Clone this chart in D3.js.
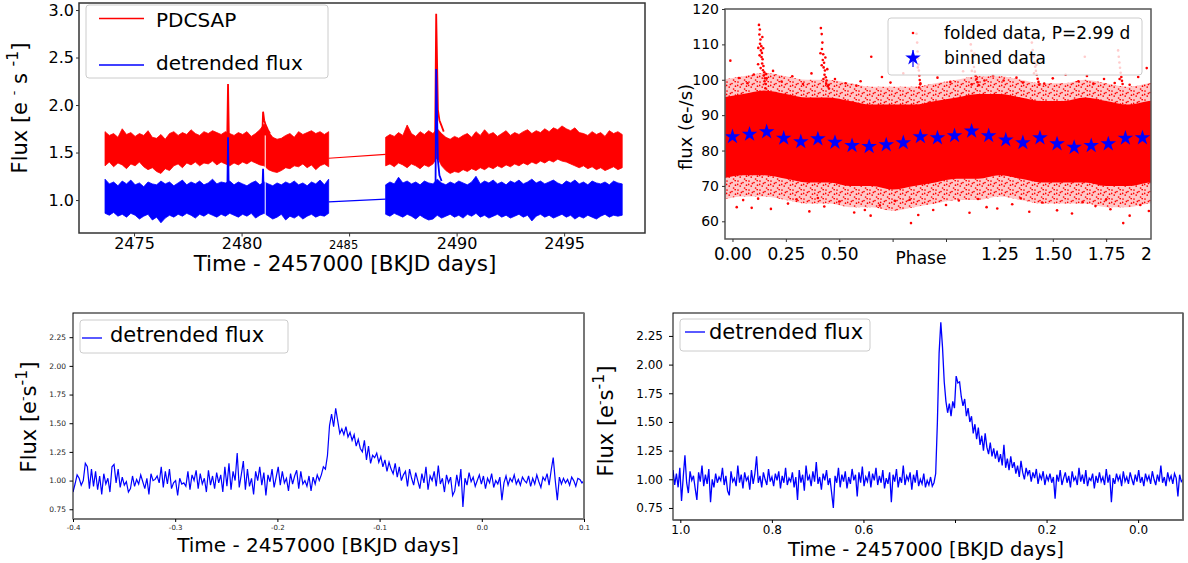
<!DOCTYPE html>
<html><head><meta charset="utf-8">
<script src="https://cdn.jsdelivr.net/npm/d3@7"></script>
<style>body{margin:0;background:#fff}svg{display:block}text{font-family:"DejaVu Sans",sans-serif}</style>
</head><body>
<svg id="c" width="1188" height="563"></svg>
<script>
// ---------- Panel A: light curve (PDCSAP + detrended) ----------
const seg1T0 = 2473.65, seg2T0 = 2486.7, segStep = 0.2;
const redSeg1Hi = [1.72,1.68,1.70,1.66,1.75,1.69,1.71,1.67,1.70,1.68,1.73,1.66,1.65,1.69,1.64,1.70,1.72,1.68,1.71,1.69,1.74,1.70,1.68,1.72,1.70,1.73,1.71,1.69,1.72,1.70,1.68,1.71,1.69,1.72,1.67,1.70,1.74,1.80,1.72,1.66,1.64,1.65,1.68,1.70,1.66,1.72,1.69,1.71,1.73,1.70,1.72,1.69,1.72];
const redSeg1Lo = [1.36,1.40,1.35,1.39,1.37,1.33,1.38,1.36,1.40,1.35,1.32,1.34,1.30,1.28,1.33,1.31,1.36,1.38,1.34,1.39,1.37,1.40,1.36,1.39,1.38,1.41,1.37,1.40,1.38,1.36,1.39,1.37,1.40,1.38,1.41,1.39,1.37,1.36,1.32,1.30,1.29,1.31,1.34,1.33,1.36,1.35,1.38,1.34,1.37,1.32,1.36,1.38,1.35];
const blueSeg1Hi = [1.22,1.17,1.19,1.15,1.20,1.17,1.21,1.16,1.18,1.14,1.19,1.17,1.16,1.20,1.17,1.19,1.15,1.18,1.21,1.16,1.19,1.17,1.20,1.16,1.18,1.22,1.17,1.19,1.18,1.20,1.16,1.19,1.17,1.15,1.18,1.20,1.16,1.19,1.17,1.15,1.18,1.16,1.19,1.17,1.20,1.16,1.18,1.15,1.19,1.17,1.21,1.16,1.22];
const blueSeg1Lo = [0.86,0.84,0.87,0.83,0.85,0.82,0.86,0.84,0.80,0.83,0.85,0.79,0.82,0.76,0.81,0.84,0.82,0.85,0.83,0.86,0.84,0.81,0.85,0.83,0.86,0.84,0.82,0.85,0.83,0.86,0.84,0.82,0.85,0.83,0.86,0.81,0.84,0.86,0.83,0.80,0.82,0.85,0.79,0.83,0.81,0.84,0.80,0.83,0.85,0.82,0.84,0.83,0.86];
const redSeg2Hi = [1.66,1.69,1.67,1.71,1.68,1.79,1.70,1.67,1.72,1.69,1.73,1.70,1.75,1.70,1.66,1.64,1.67,1.65,1.68,1.70,1.66,1.72,1.68,1.74,1.69,1.71,1.67,1.70,1.73,1.68,1.71,1.69,1.72,1.74,1.70,1.73,1.71,1.75,1.72,1.76,1.74,1.78,1.75,1.73,1.76,1.71,1.70,1.68,1.72,1.69,1.71,1.67,1.73,1.70,1.72,1.69];
const redSeg2Lo = [1.36,1.38,1.35,1.39,1.37,1.34,1.38,1.36,1.33,1.37,1.35,1.38,1.45,1.36,1.31,1.28,1.30,1.29,1.32,1.30,1.33,1.31,1.34,1.32,1.35,1.33,1.36,1.34,1.37,1.35,1.38,1.36,1.39,1.37,1.40,1.38,1.41,1.39,1.42,1.40,1.43,1.41,1.40,1.38,1.36,1.34,1.36,1.33,1.35,1.32,1.34,1.31,1.33,1.35,1.32,1.34];
const blueSeg2Hi = [1.16,1.19,1.17,1.24,1.18,1.20,1.17,1.19,1.16,1.20,1.18,1.17,1.22,1.18,1.16,1.19,1.17,1.20,1.18,1.16,1.19,1.25,1.17,1.20,1.18,1.21,1.17,1.19,1.16,1.20,1.18,1.21,1.17,1.19,1.22,1.18,1.20,1.17,1.19,1.21,1.18,1.16,1.20,1.18,1.21,1.17,1.19,1.16,1.20,1.18,1.17,1.19,1.16,1.20,1.18,1.17];
const blueSeg2Lo = [0.85,0.83,0.86,0.84,0.82,0.85,0.83,0.80,0.84,0.81,0.79,0.80,0.84,0.81,0.83,0.85,0.82,0.84,0.81,0.85,0.83,0.86,0.82,0.84,0.81,0.83,0.85,0.82,0.84,0.81,0.83,0.85,0.82,0.84,0.78,0.83,0.85,0.82,0.84,0.81,0.83,0.85,0.82,0.84,0.80,0.83,0.81,0.84,0.82,0.80,0.83,0.85,0.82,0.84,0.83,0.84];
const redFlares = [
  [[2479.33,1.62],[2479.37,2.22],[2479.41,1.64]],
  [[2480.96,1.66],[2481.00,1.93],[2481.05,1.84],[2481.12,1.79],[2481.22,1.74],[2481.32,1.70]],
  [[2489.00,1.62],[2489.05,2.96],[2489.09,2.45],[2489.13,1.95],[2489.20,1.84],[2489.30,1.78],[2489.40,1.72]]
];
const blueFlares = [
  [[2479.34,1.12],[2479.37,1.66],[2479.40,1.12]],
  [[2480.97,1.12],[2481.00,1.33],[2481.03,1.12]],
  [[2488.98,0.90],[2489.02,1.15],[2489.05,2.38],[2489.09,1.91],[2489.13,1.42],[2489.20,1.26],[2489.30,1.20]]
];
const redConnector = [[2484.05,1.44],[2486.7,1.48]];
const blueConnector = [[2484.05,0.98],[2486.7,1.01]];
const gapTimes = [2481.10];
const lcXTicks = [2475,2480,2485,2490,2495];
const lcXLabels = ["2475","2480","2485","2490","2495"];
const lcYTicks = [1.0,1.5,2.0,2.5,3.0];
const lcYLabels = ["1.0","1.5","2.0","2.5","3.0"];

// ---------- Panel B: folded data ----------
const phaseGrid = [-0.05,0.05,0.15,0.25,0.35,0.45,0.55,0.65,0.75,0.85,0.95,1.05,1.15,1.25,1.35,1.45,1.55,1.65,1.75,1.85,1.95,2.05];
const foldCoreHi = [95,96,97,96,95,95,94,93,93,93,94,95,96,96,95,94,94,95,94,93,94,95];
const foldCoreLo = [72,73,73,72,71,71,70,70,69,70,71,72,72,73,72,71,71,71,70,70,71,72];
const foldOuterHi = [100,101,102,101,100,100,99,98,98,98,99,100,101,101,100,99,99,100,99,98,99,100];
const foldOuterLo = [66,67,67,66,65,65,64,64,63,64,65,66,66,67,66,65,65,65,64,64,65,66];
const foldOutliers = [[-0.01,105.4],[0.03,100.5],[0.07,99],[0.10,101.5],[0.19,102.5],[0.23,99.5],[0.28,101],[0.33,98.8],[0.37,101.8],[0.48,100.2],[0.53,99],[0.65,106.5],[0.60,99.6],[0.70,100.8],[0.74,99.2],[0.80,101.8],[0.96,100.6],[1.02,99.4],[1.08,102.4],[1.22,101.2],[1.27,99.8],[1.33,100.6],[1.50,100.4],[1.56,101.4],[1.62,99.6],[1.69,98.9],[1.74,100.2],[1.79,99.1],[1.90,100.8],[1.94,103.3],[0.45,98.5],[0.88,99],[1.12,98.7],[1.36,99.2],[1.86,98.6],[0.16,100.4],[0.58,98.4],[1.18,99.8],[1.46,98.9],[1.66,101.1],[1.65,106.5],
  [0.02,64],[0.05,66],[0.09,63.8],[0.18,63.5],[0.26,65],[0.30,66.2],[0.36,62.8],[0.43,64.2],[0.50,65.6],[0.57,62.5],[0.62,63.2],[0.647,61.6],[0.69,64.5],[0.76,65.8],[0.836,59.5],[0.87,61.8],[0.94,63.2],[1.0,64.6],[1.06,65.9],[1.11,62.4],[1.19,64],[1.24,63.6],[1.31,64.8],[1.39,62.7],[1.45,65.3],[1.52,63.1],[1.59,62.2],[1.64,65.4],[1.70,64.3],[1.77,63.4],[1.83,59.5],[1.86,61.6],[1.91,64.6],[1.95,62.9],[0.12,66.4],[0.40,66.6],[0.83,66.1],[1.15,66.3],[1.35,66.5],[1.75,66.2]];
const foldFlarePoints = [
  [0.124,115.5],[0.128,114.2],[0.126,112.8],[0.131,111.4],[0.129,110.2],[0.135,109.5],[0.133,108.3],[0.138,107.6],[0.136,106.4],[0.141,105.8],[0.139,104.6],[0.145,103.9],[0.143,102.7],[0.149,102.1],[0.147,101.2],[0.152,100.4],[0.150,99.6],[0.156,98.8],[0.127,106.9],[0.140,112.1],[0.132,103.3],[0.154,97.6],[0.121,109.0],[0.144,108.9],[0.158,101.6],[0.120,104.4],
  [0.414,114.6],[0.418,112.9],[0.421,110.5],[0.419,108.7],[0.425,107.2],[0.423,105.6],[0.429,104.8],[0.427,103.5],[0.433,102.6],[0.431,101.4],[0.437,100.7],[0.441,99.8],[0.439,98.9],[0.446,98.2],[0.452,97.5],[0.418,104.1],[0.435,106.3],[0.426,100.2],[0.412,107.5],[0.444,103.0],
  [0.862,113],[0.865,110.5],[0.867,108],[0.869,106],[0.871,104.3],[0.873,102.6],[0.875,101.2],[0.877,99.9],[0.879,98.7],[0.868,103.5],[0.874,97.8],
  [1.112,112],[1.116,110],[1.119,108.2],[1.123,106.5],[1.127,105],[1.131,103.6],[1.135,102.3],[1.139,101.1],[1.143,100.2],[1.148,99.3],[1.153,98.5],[1.121,102.5],[1.133,107.4],
  [1.402,110.5],[1.406,108.4],[1.410,106.6],[1.414,105],[1.418,103.7],[1.421,102.5],[1.425,101.4],[1.429,100.3],[1.433,99.4],[1.437,98.6],[1.412,101.8],[1.423,104.2],
  [1.806,108.3],[1.809,106.5],[1.812,104.9],[1.815,103.4],[1.818,102],[1.821,100.8],[1.824,99.7],[1.827,98.8],[1.813,100.2]];
const binPhase = [0,0.08,0.16,0.24,0.32,0.40,0.48,0.56,0.64,0.72,0.80,0.88,0.96,1.04,1.12,1.20,1.28,1.36,1.44,1.52,1.60,1.68,1.76,1.84,1.92];
const binFlux = [83.9,84.6,85.3,83.5,82.5,83.3,82.3,81.4,81.1,81.6,82.2,83.9,83.6,84.2,85.5,84.2,83.0,82.2,83.6,81.9,80.9,81.4,81.9,83.5,83.6];
const phXTicks = [0,0.25,0.5,0.75,1.0,1.25,1.5,1.75,2.0];
const phXLabels = ["0.00","0.25","0.50","","","1.25","1.50","1.75","2.00"];
const phYTicks = [60,70,80,90,100,110,120];
const phYLabels = ["60","70","80","90","100","110","120"];

// ---------- Panel C: flare zoom 1 ----------
const zoom1T0 = -0.4, zoom1Step = 0.5/249;
const zoom1Flux = [0.90,0.97,1.05,1.02,0.96,1.00,1.15,1.12,0.93,1.10,
0.95,1.08,0.92,1.04,0.88,1.06,0.97,1.02,0.90,1.12,
1.14,0.98,1.10,0.94,1.03,0.96,0.99,0.90,0.93,1.04,
0.95,1.01,0.97,1.05,0.99,0.93,1.02,0.88,1.06,1.00,
1.01,1.04,0.98,1.12,0.94,1.08,0.97,1.10,0.93,0.98,
1.00,0.87,1.02,0.97,0.98,0.95,1.08,0.92,1.05,1.00,
1.09,0.93,1.06,0.97,1.02,0.90,1.09,0.96,1.04,0.93,
1.07,0.98,1.05,0.90,1.12,0.95,1.15,0.92,1.08,1.00,
1.24,0.94,1.05,1.17,0.92,1.10,0.95,1.02,0.88,1.08,
1.00,1.12,0.96,1.07,0.87,1.05,0.99,1.10,0.94,1.03,
1.12,0.96,1.08,0.98,1.02,0.91,1.06,0.97,1.04,1.09,
0.93,1.08,0.97,1.00,0.95,1.04,0.91,1.03,0.97,1.05,
1.00,1.05,1.12,1.10,1.22,1.48,1.58,1.47,1.63,1.52,
1.41,1.45,1.40,1.47,1.38,1.42,1.35,1.40,1.30,1.36,
1.28,1.25,1.35,1.18,1.30,1.15,1.22,1.20,1.24,1.16,
1.21,1.12,1.18,1.08,1.16,1.10,1.06,1.15,1.03,1.12,
1.00,1.05,1.08,0.95,1.10,1.02,0.96,1.07,1.00,0.93,
1.06,0.98,1.12,0.92,1.04,1.00,1.08,0.95,1.13,0.97,
1.02,0.90,1.05,0.98,1.03,0.87,0.91,1.05,0.95,1.10,
0.77,1.02,0.96,1.07,0.99,1.03,0.95,1.00,1.05,0.97,
1.04,0.93,1.02,0.98,1.06,0.94,1.00,0.97,1.03,0.83,
0.98,1.04,0.96,1.02,0.99,1.05,0.97,1.01,0.96,1.03,
1.00,0.98,1.04,0.95,1.02,0.97,1.05,0.99,0.94,1.03,
1.00,1.06,0.96,1.09,1.20,1.00,0.83,1.03,0.97,1.02,
0.98,1.01,0.96,1.03,1.00,0.95,1.02,1.01,0.98,1.00];
const zoom1XTicks = [-0.4,-0.3,-0.2,-0.1,0.0,0.1];
const zoom1XLabels = ["-0.4","-0.3","-0.2","-0.1","0.0","0.1"];
const zoomYTicks = [0.75,1.00,1.25,1.50,1.75,2.00,2.25];
const zoomYLabels = ["0.75","1.00","1.25","1.50","1.75","2.00","2.25"];

// ---------- Panel D: flare zoom 2 ----------
const zoom2T0 = 1.016, zoom2Step = -0.003726;
const zoom2Flux = [1.08,0.95,1.05,0.93,1.10,0.81,1.02,1.21,0.97,0.88,
1.07,0.99,1.03,0.92,0.82,1.06,0.98,1.12,0.94,1.04,
0.96,1.09,0.80,1.00,0.93,1.05,0.97,1.02,0.99,1.10,
0.95,1.03,0.90,0.86,1.07,0.98,1.01,0.94,1.12,0.97,
1.04,0.92,1.06,0.99,1.02,0.91,1.08,0.96,1.05,1.20,
0.97,1.03,0.93,1.06,1.00,0.95,1.09,0.98,1.02,0.94,
1.05,0.99,1.07,0.92,1.03,0.97,1.10,0.95,1.01,0.98,
1.06,0.93,1.02,0.82,1.08,0.97,1.04,0.90,1.12,0.99,
1.03,0.94,1.07,0.98,1.15,0.96,1.02,0.91,1.05,0.99,
1.08,0.95,1.01,0.88,0.75,1.03,0.97,1.10,0.93,1.04,
0.98,1.07,0.92,1.02,0.96,1.09,0.99,1.04,0.85,1.06,
0.97,1.11,0.94,1.02,0.98,1.07,0.93,1.05,0.99,1.10,
0.95,1.03,0.97,1.08,0.92,1.01,0.96,1.06,0.80,1.04,
0.98,1.09,0.93,1.02,0.97,1.12,0.95,1.03,0.99,1.06,
0.91,1.04,0.97,1.08,0.94,1.00,0.96,1.05,0.93,0.99,
0.95,1.02,0.94,0.97,1.05,1.50,2.10,2.37,2.15,1.85,
1.68,1.58,1.66,1.55,1.68,1.62,1.90,1.84,1.85,1.72,
1.64,1.70,1.55,1.62,1.50,1.55,1.40,1.48,1.35,1.45,
1.30,1.38,1.25,1.40,1.28,1.22,1.32,1.20,1.27,1.18,
1.25,1.15,1.22,1.12,1.30,1.10,1.18,1.08,1.20,1.10,
1.15,1.05,1.12,1.02,1.16,1.06,1.00,1.10,1.04,1.08,
0.98,1.06,1.01,1.09,0.96,1.04,1.00,1.07,0.95,1.03,
0.99,1.05,0.97,1.02,0.83,1.04,0.98,1.08,0.95,1.01,
1.06,0.97,1.03,0.93,1.07,0.99,1.02,0.95,1.10,0.98,
1.04,0.96,1.08,0.94,1.01,0.99,1.05,0.92,1.03,0.97,
1.06,0.98,1.02,0.95,1.09,0.97,1.04,0.80,1.01,0.96,
1.05,0.99,1.03,0.94,1.07,0.98,1.02,0.96,1.06,1.00,
0.95,1.04,0.98,1.08,0.97,1.02,0.94,1.05,0.99,1.03,
0.96,1.07,1.00,0.95,1.04,0.98,1.12,0.97,1.02,0.94,
1.06,0.99,1.03,0.96,1.05,1.01,0.85,1.04,0.98,1.00];
const zoom2XTicks = [1.0,0.8,0.6,0.4,0.2,0.0];
const zoom2XLabels = ["1.0","0.8","0.6","","0.2","0.0"];

// ================= drawing =================
const RED = "#ff0000", BLUE = "#0000ff";
const svg = d3.select("#c");
const defs = svg.append("defs");
let cid = 0;
function clipUrl(x, y, w, h) {
  const id = "cp" + (cid++);
  defs.append("clipPath").attr("id", id).attr("clipPathUnits", "userSpaceOnUse")
    .append("rect").attr("x", x).attr("y", y).attr("width", w).attr("height", h);
  return `url(#${id})`;
}
// speckle texture used to render the sparse outer part of the folded point cloud
const speck = defs.append("pattern").attr("id", "speck").attr("patternUnits", "userSpaceOnUse").attr("width", 11).attr("height", 9);
[[1,1],[6,2.5],[9.5,5.2],[3.2,6.1],[7.6,8],[0.6,4.4],[4.4,3.4],[9.2,0.6]].forEach(c =>
  speck.append("circle").attr("cx", c[0]).attr("cy", c[1]).attr("r", 0.85).attr("fill", RED));

function panel(l, r, t, b, xd, yd) {
  const x = d3.scaleLinear().domain(xd).range([l, r]);
  const y = d3.scaleLinear().domain(yd).range([b, t]);
  const g = svg.append("g");
  const plot = g.append("g").attr("clip-path", clipUrl(l, t, r - l, b - t));
  return {x, y, g, plot, l, r, t, b};
}
function xAxis(p, vals, labels, o, parent) {
  const ax = (parent || p.g).append("g").attr("transform", `translate(0,${p.b})`)
    .call(d3.axisBottom(p.x).tickValues(vals).tickFormat((d, i) => labels[i]).tickSize(o.size).tickPadding(o.pad));
  ax.select(".domain").remove();
  ax.selectAll(".tick line").attr("stroke", o.tc || "#000");
  ax.selectAll(".tick text").attr("font-size", o.fs).attr("font-family", "DejaVu Sans").attr("fill", o.col || "#000");
  return ax;
}
function yAxis(p, vals, labels, o) {
  const ax = p.g.append("g").attr("transform", `translate(${p.l},0)`)
    .call(d3.axisLeft(p.y).tickValues(vals).tickFormat((d, i) => labels[i]).tickSize(o.size).tickPadding(o.pad));
  ax.select(".domain").remove();
  ax.selectAll(".tick line").attr("stroke", o.tc || "#000");
  ax.selectAll(".tick text").attr("font-size", o.fs).attr("font-family", "DejaVu Sans").attr("fill", o.col || "#000");
  return ax;
}
function frame(p, c, w) {
  p.g.append("rect").attr("x", p.l).attr("y", p.t).attr("width", p.r - p.l).attr("height", p.b - p.t)
    .attr("fill", "none").attr("stroke", c).attr("stroke-width", w);
}
function fluxLabel(cx, cy, fs, spaced) {
  const t = svg.append("text").attr("transform", `translate(${cx},${cy}) rotate(-90)`)
    .attr("text-anchor", "middle").attr("font-size", fs).attr("fill", "#000");
  t.append("tspan").text("Flux [e" + (spaced ? " " : ""));
  t.append("tspan").attr("font-size", fs * 0.6).attr("dy", -fs * 0.42).text("-");
  t.append("tspan").attr("dy", fs * 0.42).text(spaced ? " s " : "s");
  t.append("tspan").attr("font-size", fs * 0.75).attr("dy", -fs * 0.42).text("-1");
  t.append("tspan").attr("dy", fs * 0.42).text("]");
}
function legendBox(x, y, w, h) {
  svg.append("rect").attr("x", x).attr("y", y).attr("width", w).attr("height", h).attr("rx", 3)
    .attr("fill", "#fff").attr("fill-opacity", 0.8).attr("stroke", "#cccccc").attr("stroke-width", 1);
}
const line = p => d3.line().x(d => p.x(d[0])).y(d => p.y(d[1]));

// ----- Panel A -----
const A = panel(79, 645, 3, 233, [2472.44, 2498.76], [0.653, 3.074]);
function band(p, t0, hi, lo, color) {
  const idx = d3.range(hi.length);
  p.plot.append("path").datum(idx)
    .attr("d", d3.area().x(i => p.x(t0 + i * segStep)).y0(i => p.y(lo[i])).y1(i => p.y(hi[i])))
    .attr("fill", color).attr("stroke", color).attr("stroke-width", 0.8).attr("stroke-linejoin", "miter");
}
band(A, seg1T0, redSeg1Hi, redSeg1Lo, RED);
band(A, seg2T0, redSeg2Hi, redSeg2Lo, RED);
A.plot.append("path").datum(redConnector).attr("d", line(A)).attr("fill", "none").attr("stroke", RED).attr("stroke-width", 1.2);
redFlares.forEach(f => A.plot.append("path").datum(f).attr("d", line(A)).attr("fill", "none").attr("stroke", RED).attr("stroke-width", 1.8));
band(A, seg1T0, blueSeg1Hi, blueSeg1Lo, BLUE);
band(A, seg2T0, blueSeg2Hi, blueSeg2Lo, BLUE);
A.plot.append("path").datum(blueConnector).attr("d", line(A)).attr("fill", "none").attr("stroke", BLUE).attr("stroke-width", 1.2);
blueFlares.forEach(f => A.plot.append("path").datum(f).attr("d", line(A)).attr("fill", "none").attr("stroke", BLUE).attr("stroke-width", 1.8));
gapTimes.forEach(t => A.plot.append("line").attr("x1", A.x(t)).attr("x2", A.x(t)).attr("y1", A.y(1.68)).attr("y2", A.y(0.74))
  .attr("stroke", "#fff").attr("stroke-width", 1));
frame(A, "#333", 1.5);
const axA = xAxis(A, lcXTicks, lcXLabels, {size: 3.5, pad: 1, fs: 16, tc: "#333"});
axA.selectAll(".tick").filter(d => d === 2485).select("text")
  .attr("font-family", "Liberation Serif").attr("font-size", 11.5).attr("x", -6).attr("y", 8);
yAxis(A, lcYTicks, lcYLabels, {size: 3, pad: 2, fs: 16, tc: "#333"});
svg.append("text").attr("x", 345).attr("y", 271).attr("text-anchor", "middle").attr("font-size", 21.5).text("Time - 2457000 [BKJD days]");
fluxLabel(27, 108, 21, true);
legendBox(86, 5, 242, 73);
svg.append("line").attr("x1", 99).attr("x2", 144).attr("y1", 18.5).attr("y2", 18.5).attr("stroke", RED).attr("stroke-width", 1.5);
svg.append("line").attr("x1", 99).attr("x2", 144).attr("y1", 65).attr("y2", 65).attr("stroke", BLUE).attr("stroke-width", 1.5);
svg.append("text").attr("x", 156).attr("y", 27).attr("font-size", 20).text("PDCSAP");
svg.append("text").attr("x", 156).attr("y", 70).attr("font-size", 20).text("detrended flux");

// ----- Panel B -----
const B = panel(725, 1151, 9, 239, [-0.035, 1.96], [55, 120]);
const fold = d3.range(phaseGrid.length);
const outerArea = d3.area().curve(d3.curveMonotoneX).x(i => B.x(phaseGrid[i])).y0(i => B.y(foldOuterLo[i])).y1(i => B.y(foldOuterHi[i]));
B.plot.append("path").datum(fold).attr("d", outerArea).attr("fill", RED).attr("fill-opacity", 0.22);
B.plot.append("path").datum(fold).attr("d", outerArea).attr("fill", "url(#speck)");
B.plot.append("path").datum(fold)
  .attr("d", d3.area().curve(d3.curveMonotoneX).x(i => B.x(phaseGrid[i])).y0(i => B.y(foldCoreLo[i])).y1(i => B.y(foldCoreHi[i])))
  .attr("fill", RED);
B.plot.selectAll("circle.o").data(foldOutliers.concat(foldFlarePoints)).join("circle")
  .attr("cx", d => B.x(d[0])).attr("cy", d => B.y(d[1])).attr("r", 1.3).attr("fill", RED);
const star = d3.symbol().type(d3.symbolStar).size(75);
B.plot.selectAll("path.s").data(binPhase).join("path")
  .attr("transform", (d, i) => `translate(${B.x(d)},${B.y(binFlux[i])})`).attr("d", star).attr("fill", BLUE);
frame(B, "#555", 1.5);
const axBWrap = B.g.append("g").attr("clip-path", clipUrl(600, 235, 551, 40));
xAxis(B, phXTicks, phXLabels, {size: 3, pad: 5.5, fs: 17, tc: "#333"}, axBWrap);
yAxis(B, phYTicks, phYLabels, {size: 3, pad: 3, fs: 14, tc: "#333"});
svg.append("text").attr("x", 921).attr("y", 264).attr("text-anchor", "middle").attr("font-size", 17).text("Phase");
svg.append("text").attr("transform", "translate(692,127) rotate(-90)").attr("text-anchor", "middle").attr("font-size", 18).text("flux (e-/s)");
legendBox(888, 18, 254, 57);
svg.append("circle").attr("cx", 913).attr("cy", 33).attr("r", 1.3).attr("fill", RED);
svg.append("line").attr("x1", 913).attr("x2", 913).attr("y1", 50).attr("y2", 67).attr("stroke", BLUE).attr("stroke-width", 1.2);
svg.append("path").attr("transform", "translate(913,58)").attr("d", star).attr("fill", BLUE);
svg.append("text").attr("x", 944).attr("y", 39).attr("font-size", 17).text("folded data, P=2.99 d");
svg.append("text").attr("x", 944).attr("y", 64).attr("font-size", 17).text("binned data");

// ----- Panel C -----
const C = panel(73, 584, 313, 519, [-0.4, 0.1], [0.665, 2.461]);
C.plot.append("path").datum(zoom1Flux.map((v, i) => [zoom1T0 + i * zoom1Step, v]))
  .attr("d", line(C)).attr("fill", "none").attr("stroke", BLUE).attr("stroke-width", 1.2);
frame(C, "#000", 1);
C.g.append("line").attr("x1", C.l).attr("x2", C.r + 1).attr("y1", C.b).attr("y2", C.b).attr("stroke", "#777").attr("stroke-width", 2);
C.g.append("line").attr("x1", C.r).attr("x2", C.r).attr("y1", C.t).attr("y2", C.b).attr("stroke", "#777").attr("stroke-width", 2);
xAxis(C, zoom1XTicks, zoom1XLabels, {size: 3, pad: 3, fs: 7, col: "#222"});
yAxis(C, zoomYTicks, zoomYLabels, {size: 3.5, pad: 3.5, fs: 7.5, col: "#222"});
svg.append("text").attr("x", 318).attr("y", 552).attr("text-anchor", "middle").attr("font-size", 20).text("Time - 2457000 [BKJD days]");
fluxLabel(36, 417, 21, false);
legendBox(80, 320, 208, 33);
svg.append("line").attr("x1", 82).attr("x2", 102).attr("y1", 338).attr("y2", 338).attr("stroke", BLUE).attr("stroke-width", 1.3);
svg.append("text").attr("x", 110).attr("y", 342).attr("font-size", 21).text("detrended flux");

// ----- Panel D -----
const D = panel(673, 1183, 313, 520, [1.016, -0.098], [0.645, 2.45]);
D.plot.append("path").datum(zoom2Flux.map((v, i) => [zoom2T0 + i * zoom2Step, v]))
  .attr("d", line(D)).attr("fill", "none").attr("stroke", BLUE).attr("stroke-width", 1.3);
frame(D, "#000", 1);
D.g.append("line").attr("x1", D.l).attr("x2", D.r + 1).attr("y1", D.b).attr("y2", D.b).attr("stroke", "#666").attr("stroke-width", 1.6);
D.g.append("line").attr("x1", D.r).attr("x2", D.r).attr("y1", D.t).attr("y2", D.b).attr("stroke", "#666").attr("stroke-width", 1.6);
xAxis(D, zoom2XTicks, zoom2XLabels, {size: 3, pad: 2, fs: 12});
yAxis(D, zoomYTicks, zoomYLabels, {size: 4, pad: 6, fs: 12});
svg.append("text").attr("x", 926).attr("y", 556).attr("text-anchor", "middle").attr("font-size", 19.6).text("Time - 2457000 [BKJD days]");
fluxLabel(613, 421, 21, false);
legendBox(680, 319, 190, 32);
svg.append("line").attr("x1", 685).attr("x2", 705).attr("y1", 332).attr("y2", 332).attr("stroke", BLUE).attr("stroke-width", 1.3);
svg.append("text").attr("x", 709).attr("y", 339).attr("font-size", 21).text("detrended flux");
</script>
</body></html>
